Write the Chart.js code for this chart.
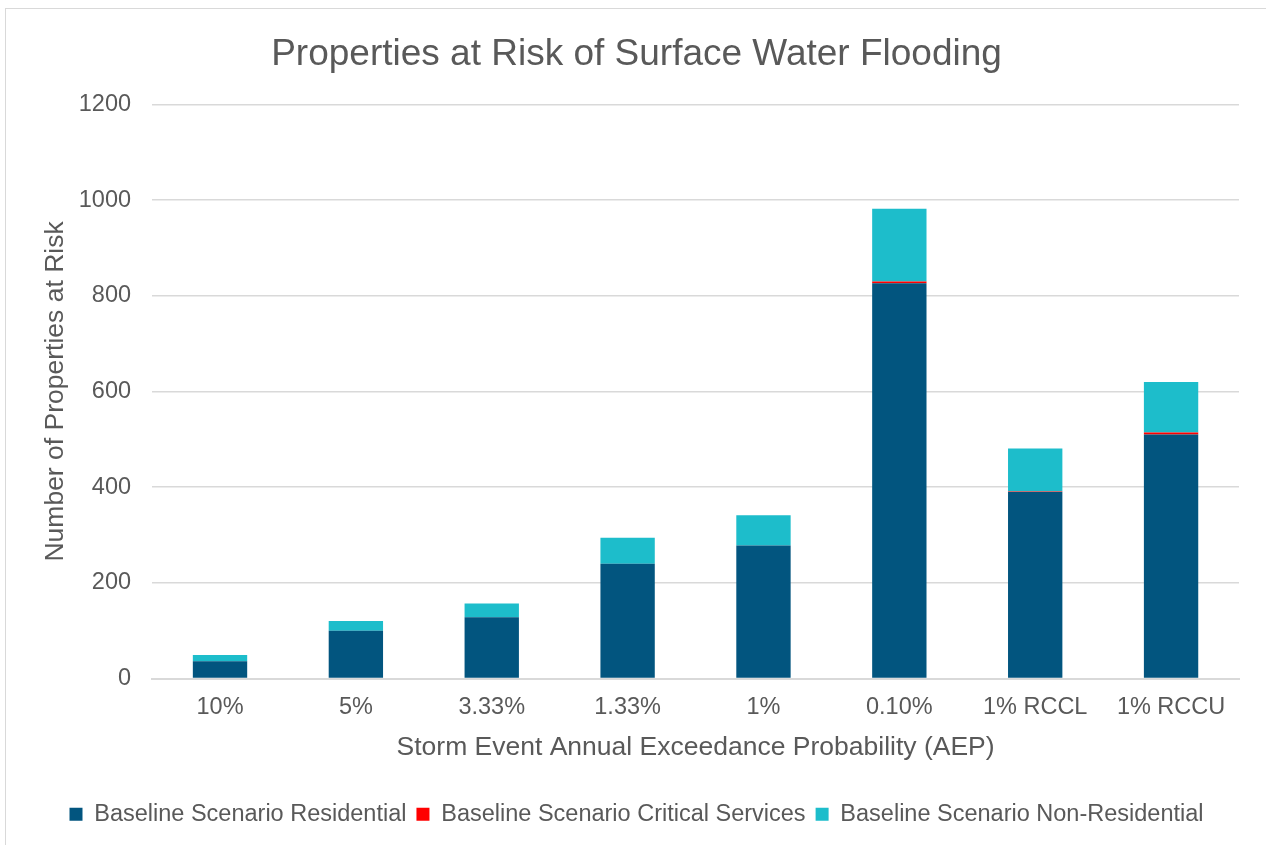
<!DOCTYPE html>
<html>
<head>
<meta charset="utf-8">
<script src="https://cdn.jsdelivr.net/npm/chart.js@4/dist/chart.umd.min.js"></script>
<style>
    html, body { margin: 0; padding: 0; background: #fff; overflow: hidden; }
    #wrap { position: relative; width: 1266px; height: 845px; }
    #frame { position: absolute; left: 5px; top: 8px; width: 1300px; height: 900px; border: 1.5px solid #d9d9d9; }
    #chart { position: absolute; left: 0; top: 0; }
</style>
</head>
<body>
<div id="wrap">
    <div id="frame"></div>
    <canvas id="chart" width="1266" height="845"></canvas>
</div>
<script>
// Storm event AEP categories
const categories = ['10%', '5%', '3.33%', '1.33%', '1%', '0.10%', '1% RCCL', '1% RCCU'];

// Properties at risk per scenario
const residential = [36, 100, 128, 240, 278, 826, 390, 510];
const criticalServices = [0, 0, 0, 0, 0, 4, 1, 4];
const nonResidential = [13, 20, 29, 54, 63, 152, 90, 106];

const yTicks = [0, 200, 400, 600, 800, 1000, 1200];

const textColor = '#595959';
const gridColor = '#d9d9d9';
const fontFamily = '"Liberation Sans", Arial, sans-serif';

document.addEventListener('DOMContentLoaded', function() {
    createFloodChart();
});

function createFloodChart() {
    const ctx = document.getElementById('chart');

    new Chart(ctx, {
        type: 'bar',
        data: {
            labels: categories,
            datasets: [
                {
                    label: 'Baseline Scenario Residential',
                    data: residential,
                    backgroundColor: '#02557f'
                },
                {
                    label: 'Baseline Scenario Critical Services',
                    data: criticalServices,
                    backgroundColor: '#ff0000'
                },
                {
                    label: 'Baseline Scenario Non-Residential',
                    data: nonResidential,
                    backgroundColor: '#1dbdcb'
                }
            ]
        },
        options: {
            responsive: false,
            animation: false,
            datasets: {
                bar: {
                    barPercentage: 0.4,
                    categoryPercentage: 1.0
                }
            },
            layout: {
                padding: { left: 34, right: 27, top: 0, bottom: 9 }
            },
            plugins: {
                title: {
                    display: true,
                    text: 'Properties at Risk of Surface Water Flooding',
                    color: textColor,
                    font: { family: fontFamily, size: 37, weight: 'normal' },
                    padding: { top: 33, bottom: 27 }
                },
                legend: {
                    position: 'bottom',
                    labels: {
                        color: textColor,
                        boxWidth: 13,
                        boxHeight: 13,
                        padding: 10,
                        font: { family: fontFamily, size: 23.5 }
                    }
                },
                tooltip: { enabled: false }
            },
            scales: {
                x: {
                    stacked: true,
                    grid: { display: false, drawTicks: false },
                    border: { display: true, color: gridColor, width: 2 },
                    ticks: {
                        color: textColor,
                        padding: 15,
                        font: { family: fontFamily, size: 23.5 }
                    },
                    title: {
                        display: true,
                        text: 'Storm Event Annual Exceedance Probability (AEP)',
                        color: textColor,
                        font: { family: fontFamily, size: 26.5 },
                        padding: { top: -5, bottom: 29 }
                    }
                },
                y: {
                    stacked: true,
                    min: 0,
                    max: 1200,
                    afterBuildTicks: function(axis) {
                        axis.ticks = yTicks.map(function(v) { return { value: v }; });
                    },
                    grid: { color: gridColor, lineWidth: 1.5, drawTicks: false },
                    border: { display: false },
                    ticks: {
                        color: textColor,
                        padding: 21,
                        font: { family: fontFamily, size: 23.5 },
                        callback: function(value) {
                            return String(value);
                        }
                    },
                    title: {
                        display: true,
                        text: 'Number of Properties at Risk',
                        color: textColor,
                        font: { family: fontFamily, size: 26.5 },
                        padding: { top: 6, bottom: -14 }
                    }
                }
            }
        }
    });
}
</script>
</body>
</html>
